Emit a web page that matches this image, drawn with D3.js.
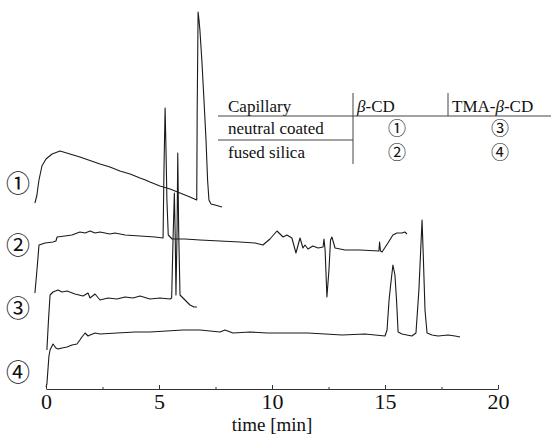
<!DOCTYPE html>
<html lang="en">

<head>
    <meta charset="UTF-8">
    <title>Electropherograms</title>
    <script src="https://d3js.org/d3.v7.min.js"></script>
    <style>
        body { margin: 0; background: #fff; }
        svg text { font-family: "Liberation Serif", "Times New Roman", serif; fill: #111; }
        .circ { font-family: "Noto Sans CJK JP", "DejaVu Sans", sans-serif !important; }
    </style>
</head>

<body>
    <div id="chart"></div>

    <script>
        // time in min, signal in a.u. (relative to each trace's start level)
        const trace1Time = [-0.49, -0.40, -0.35, -0.31, -0.18, 0, 0.27, 0.62, 1.06, 1.50, 2.39, 2.83, 3.27, 3.72, 4.16, 4.40, 4.60, 5.04, 5.49, 5.93, 6.37, 6.67, 6.69, 6.73, 6.77, 6.81, 6.90, 6.99, 7.08, 7.15, 7.21, 7.30, 7.48, 7.79];
        const trace1Signal = [0, 8, 17, 23, 37, 44, 49, 52, 49, 46, 39, 36, 32, 29, 25, 23, 21, 17, 14, 10, 6, 3, 93, 191, 183, 173, 141, 103, 63, 23, 3, -1, -2, -4];

        const trace2Time = [-0.49, -0.40, -0.31, -0.04, 0.31, 0.44, 0.49, 0.84, 1.15, 1.50, 1.73, 1.95, 2.17, 2.39, 2.83, 3.05, 3.50, 4.16, 4.82, 5.18, 5.22, 5.27, 5.31, 5.35, 5.41, 5.58, 6.15, 6.81, 7.70, 8.58, 9.25, 9.60, 9.91, 10.22, 10.49, 10.66, 10.88, 11.06, 11.24, 11.37, 11.46, 11.59, 11.81, 12.04, 12.26, 12.30, 12.35, 12.43, 12.52, 12.59, 12.65, 12.79, 13.23, 13.89, 14.73, 14.76, 14.80, 14.87, 15.13, 15.35, 15.53, 15.75, 15.88, 15.97];
        const trace2Signal = [0, 23, 48, 50, 51, 52, 56, 57, 58, 61, 60, 62, 60, 61, 59, 60, 58, 57, 56, 55, 123, 185, 143, 93, 58, 54, 54, 53, 52, 51, 50, 48, 54, 62, 56, 58, 55, 40, 55, 45, 48, 44, 47, 45, 46, 54, 43, -4, 23, 53, 56, 45, 43, 43, 42, 51, 42, 41, 50, 58, 60, 60, 61, 59];

        const trace3Time = [0.04, 0.11, 0.18, 0.31, 0.53, 0.71, 0.93, 1.28, 1.64, 1.86, 1.95, 2.17, 2.39, 2.74, 3.14, 3.50, 3.85, 4.16, 4.60, 5.04, 5.49, 5.56, 5.62, 5.68, 5.72, 5.75, 5.80, 5.83, 5.87, 5.93, 6.15, 6.37, 6.55, 6.68];
        const trace3Signal = [0, 30, 55, 58, 60, 58, 59, 56, 54, 57, 52, 56, 50, 52, 51, 53, 52, 54, 51, 52, 51, 52, 110, 157, 110, 55, 120, 197, 120, 55, 50, 45, 43, 43];

        const trace4Time = [0, 0.04, 0.13, 0.18, 0.31, 0.44, 0.53, 0.71, 0.93, 1.15, 1.37, 1.50, 1.59, 1.73, 1.86, 1.95, 2.17, 2.39, 3.14, 3.94, 4.60, 6.06, 6.81, 7.70, 7.92, 8.27, 9.03, 9.78, 10.80, 11.59, 12.35, 13.10, 14.12, 15.00, 15.09, 15.18, 15.24, 15.35, 15.44, 15.51, 15.58, 15.75, 16.19, 16.37, 16.50, 16.64, 16.70, 16.77, 16.86, 17.08, 17.35, 17.79, 18.10, 18.32];
        const trace4Signal = [0, 3, 31, 37, 43, 39, 38, 39, 40, 42, 43, 47, 50, 54, 51, 52, 54, 53, 54, 55, 55, 57, 57, 55, 57, 54, 55, 54, 54, 54, 53, 52, 53, 51, 57, 87, 100, 122, 112, 87, 55, 53, 51, 54, 97, 167, 127, 77, 54, 52, 51, 52, 51, 50];

        // vertical stacking offset of each trace (a.u.)
        const traceOffsets = [186, 96, 39, 2];
        const traceLabels = ["①", "②", "③", "④"];
        const labelLevels = [206, 144, 81, 17];

        const xTicks = [0, 5, 10, 15, 20];
        const xMinorTicks = [2.5, 7.5, 12.5, 17.5];

        const tableHeader = ["Capillary", "β-CD", "TMA-β-CD"];
        const tableRows = [["neutral coated", "①", "③"], ["fused silica", "②", "④"]];

        const traces = [
            [trace1Time, trace1Signal],
            [trace2Time, trace2Signal],
            [trace3Time, trace3Signal],
            [trace4Time, trace4Signal]
        ];

        const width = 551, height = 436;

        const svg = d3.select("#chart").append("svg")
            .attr("width", width)
            .attr("height", height);

        const x = d3.scaleLinear().domain([0, 20]).range([46, 498]);
        const y = d3.scaleLinear().domain([0, 380]).range([389, 9]);

        const line = d3.line()
            .x(d => x(d[0]))
            .y(d => y(d[1]));

        traces.forEach((tr, i) => {
            const pts = tr[0].map((t, j) => [t, tr[1][j] + traceOffsets[i]]);
            svg.append("path")
                .attr("d", line(pts))
                .attr("fill", "none")
                .attr("stroke", "#1a1a1a")
                .attr("stroke-width", 1.1)
                .attr("stroke-linejoin", "round");

            svg.append("text")
                .attr("class", "circ")
                .attr("x", 18)
                .attr("y", y(labelLevels[i]))
                .attr("dy", "0.36em")
                .attr("text-anchor", "middle")
                .style("font-size", "24px")
                .text(traceLabels[i]);
        });

        // x axis, ticks pointing up
        const axis = svg.append("g")
            .attr("transform", "translate(0," + y(0) + ")")
            .call(d3.axisBottom(x).tickValues(xTicks).tickSizeInner(-4).tickSizeOuter(0).tickPadding(4).tickFormat(d3.format("d")));
        axis.select(".domain").attr("stroke", "#333").attr("stroke-width", 1.2);
        axis.selectAll(".tick line").attr("stroke", "#333");
        axis.selectAll(".tick text")
            .style("font-family", "'Liberation Serif', serif")
            .style("font-size", "22px")
            .attr("fill", "#111");

        svg.append("g")
            .attr("transform", "translate(0," + y(0) + ")")
            .call(d3.axisBottom(x).tickValues(xMinorTicks).tickSizeInner(-2).tickSizeOuter(0).tickFormat(""))
            .call(g => g.select(".domain").remove())
            .selectAll(".tick line").attr("stroke", "#333");

        svg.append("text")
            .attr("x", x(10))
            .attr("y", 431)
            .attr("text-anchor", "middle")
            .style("font-size", "19px")
            .text("time [min]");

        // table
        const table = svg.append("g");
        const colX = [228, 357, 452];
        const circX = [397, 500];

        table.selectAll(".hdr")
            .data(tableHeader)
            .enter().append("text")
            .attr("x", (d, i) => colX[i])
            .attr("y", 112)
            .style("font-size", "17px")
            .html(d => d.replace("β", "<tspan font-style='italic'>β</tspan>"));

        tableRows.forEach((row, r) => {
            const by = 134 + r * 24;
            table.append("text")
                .attr("x", colX[0])
                .attr("y", by)
                .style("font-size", "17px")
                .text(row[0]);
            row.slice(1).forEach((c, k) => {
                table.append("text")
                    .attr("class", "circ")
                    .attr("x", circX[k])
                    .attr("y", by - 5)
                    .attr("dy", "0.36em")
                    .attr("text-anchor", "middle")
                    .style("font-size", "18px")
                    .text(c);
            });
        });

        const rule = "#444";
        table.append("line").attr("x1", 218).attr("x2", 551).attr("y1", 116).attr("y2", 116).attr("stroke", rule);
        table.append("line").attr("x1", 218).attr("x2", 353).attr("y1", 140).attr("y2", 140).attr("stroke", rule);
        table.append("line").attr("x1", 353).attr("x2", 353).attr("y1", 93).attr("y2", 164).attr("stroke", rule);
        table.append("line").attr("x1", 448).attr("x2", 448).attr("y1", 93).attr("y2", 116).attr("stroke", rule);
    </script>
</body>

</html>
